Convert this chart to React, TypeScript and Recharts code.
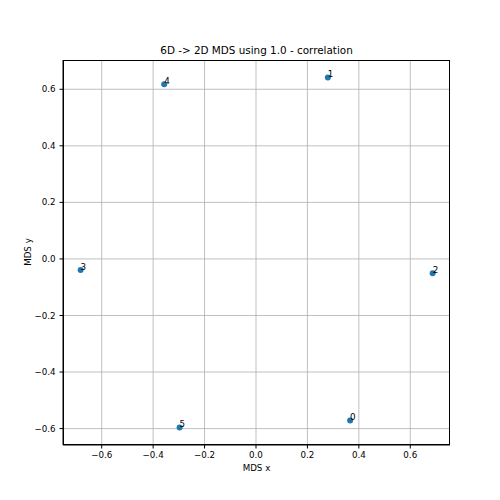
import React from 'react';
import { ScatterChart, Scatter, XAxis, YAxis, CartesianGrid, Label } from 'recharts';

const pointIds = ['0', '1', '2', '3', '4', '5'];
const mdsX = [0.366, 0.2795, 0.687, -0.682, -0.357, -0.297];
const mdsY = [-0.571, 0.642, -0.051, -0.039, 0.618, -0.596];
const tickValues = [-0.6, -0.4, -0.2, 0.0, 0.2, 0.4, 0.6];

const data = pointIds.map((id, i) => ({ id, x: mdsX[i], y: mdsY[i] }));

const FONT = 'DejaVu Sans, sans-serif';
const fmt = (v: number) => v.toFixed(1).replace('-', '\u2212');

const Dot = (props: any) => {
    const { cx, cy, payload } = props;
    return (
        <g>
            <circle cx={cx} cy={cy} r={3} fill="#1f77b4" />
            <text x={cx} y={cy} fontSize={8.7} fontFamily={FONT} fill="#000">
                {payload.id}
            </text>
        </g>
    );
};

export default function App() {
    return (
        <div style={{ position: 'absolute', left: 0, top: 0, width: 500, height: 500, background: '#fff' }}>
            <div
                style={{
                    position: 'absolute',
                    top: 44,
                    left: 63,
                    width: 387,
                    textAlign: 'center',
                    fontFamily: FONT,
                    fontSize: 10.4,
                    lineHeight: '12px',
                }}
            >
                6D -&gt; 2D MDS using 1.0 - correlation
            </div>
            <ScatterChart width={500} height={500} margin={{ top: 60, right: 50, bottom: 25, left: 13 }}>
                <CartesianGrid stroke="#b0b0b0" strokeWidth={0.8} horizontalValues={tickValues} verticalValues={tickValues} />
                <XAxis
                    type="number"
                    dataKey="x"
                    domain={[-0.7505, 0.7545]}
                    ticks={tickValues}
                    tickFormatter={fmt}
                    allowDataOverflow
                    height={30}
                    tickSize={3.5}
                    tickMargin={3}
                    stroke="#000"
                    tick={{ fill: '#000', fontSize: 8.7, fontFamily: FONT }}
                >
                    <Label value="MDS x" position="insideBottom" offset={4} fill="#000" fontSize={8.7} fontFamily={FONT} />
                </XAxis>
                <YAxis
                    type="number"
                    dataKey="y"
                    domain={[-0.658, 0.7035]}
                    ticks={tickValues}
                    tickFormatter={fmt}
                    allowDataOverflow
                    width={50}
                    tickSize={3.5}
                    tickMargin={4}
                    stroke="#000"
                    tick={{ fill: '#000', fontSize: 8.7, fontFamily: FONT }}
                >
                    <Label
                        content={() => (
                            <text
                                x={28}
                                y={252}
                                transform="rotate(-90 28 252)"
                                textAnchor="middle"
                                dominantBaseline="central"
                                fontSize={8.7}
                                fontFamily={FONT}
                                fill="#000"
                            >
                                MDS y
                            </text>
                        )}
                    />
                </YAxis>
                <XAxis xAxisId="top" orientation="top" type="number" dataKey="x" hide />
                <Scatter data={data} shape={<Dot />} isAnimationActive={false} />
            </ScatterChart>
            <div
                style={{
                    position: 'absolute',
                    left: 63,
                    top: 60,
                    width: 387,
                    height: 385,
                    boxSizing: 'border-box',
                    border: '0.8px solid #000',
                    pointerEvents: 'none',
                }}
            />
        </div>
    );
}
